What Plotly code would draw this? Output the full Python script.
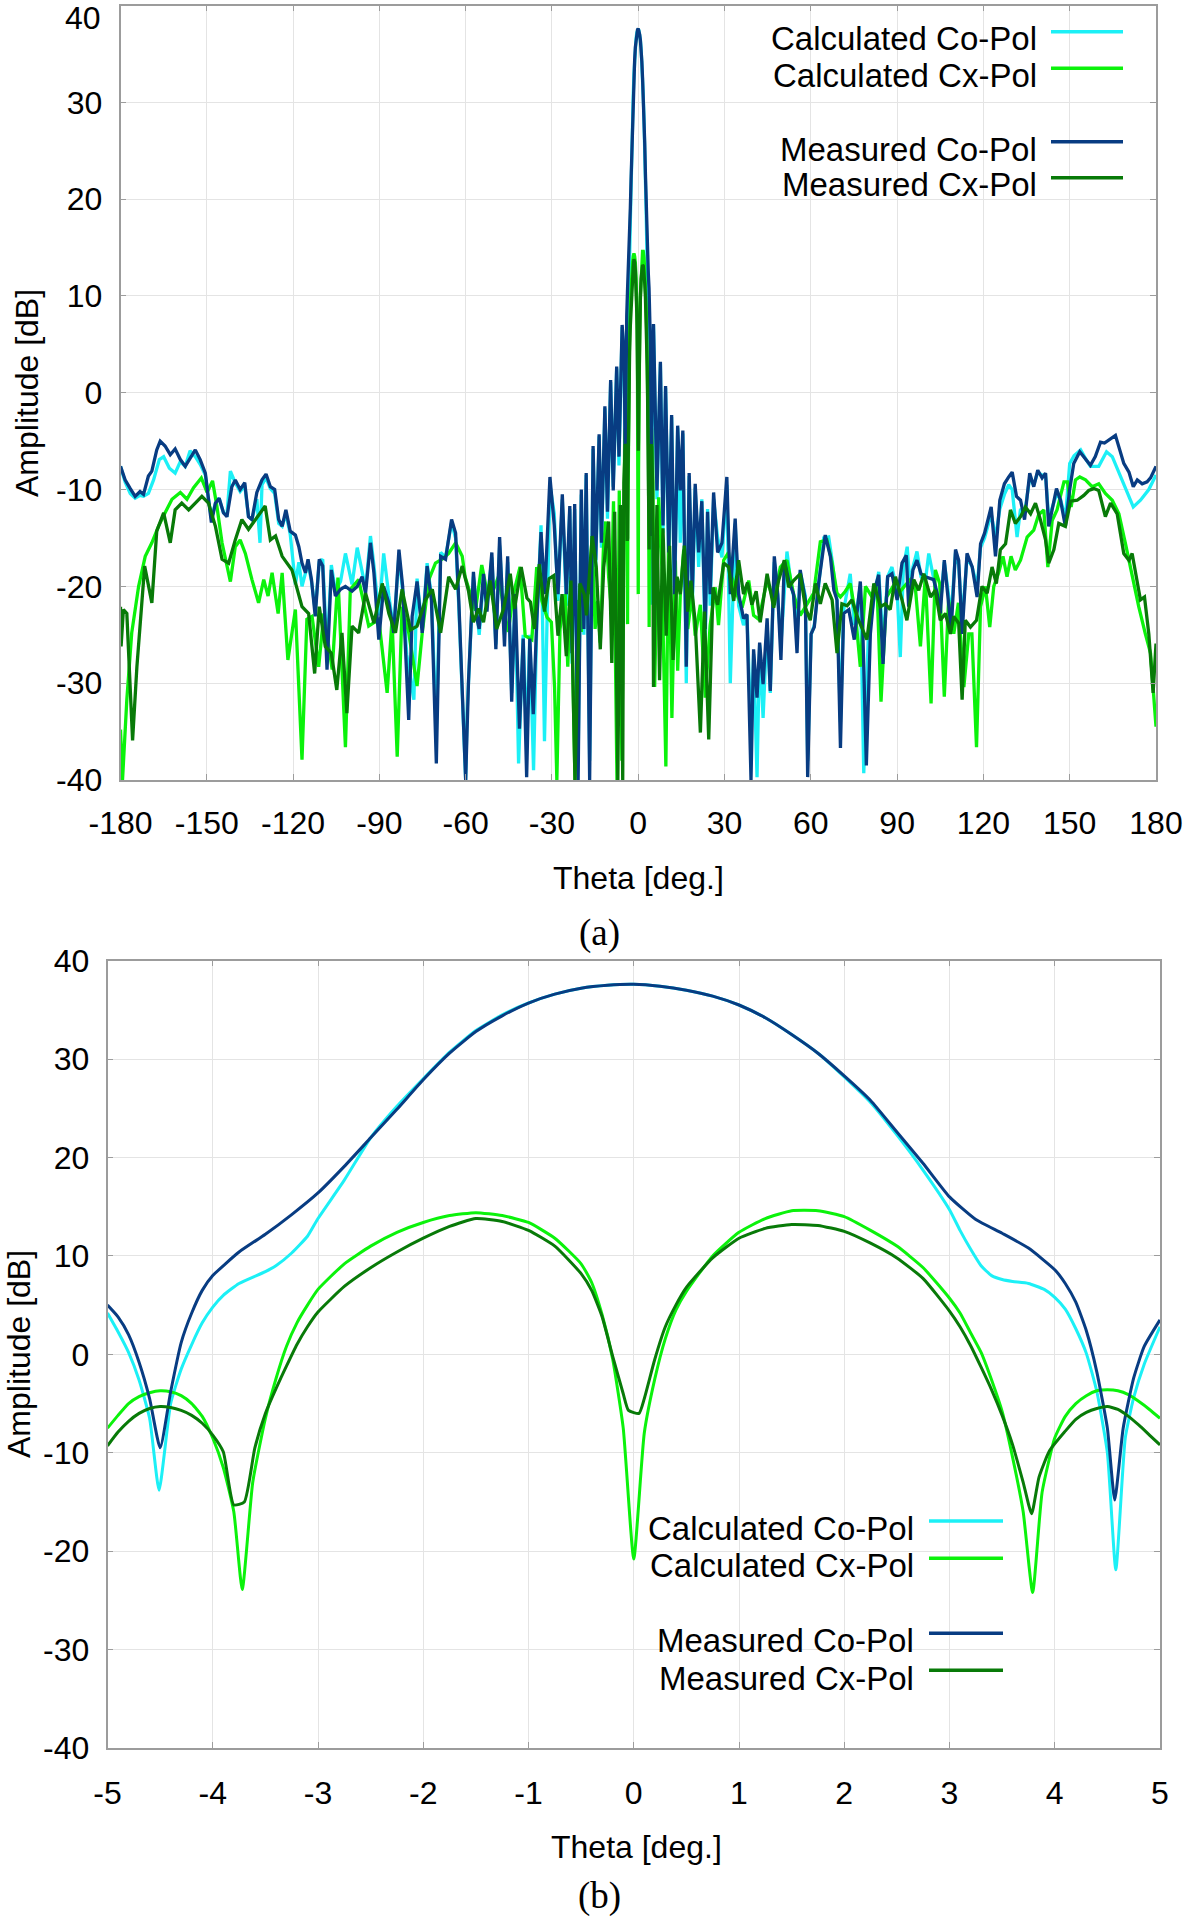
import plotly.graph_objects as go

# ---------------- data: panel (a), |theta| > 5 deg  (theta [deg], amplitude [dB]) ----------------
a_calc_co = [(-180,-7.6),(-178.4,-9.2),(-176.6,-10.4),(-174.9,-10.9),(-173.2,-10.6),(-172,-10.7),(-170.3,-10.4),(-168.5,-9),(-166.5,-6.9),(-165,-6.6),(-163,-7.8),(-161,-8.3),(-159.2,-7.1),(-157.5,-7.6),(-155.8,-6),(-154,-6.6),(-152.3,-7.4),(-150.5,-8.5),(-149.4,-11),(-148.4,-13),(-147,-11.4),(-145.7,-10.9),(-144.2,-12.4),(-143,-12.6),(-141.8,-8.1),(-140.1,-9.3),(-138.4,-10.2),(-136.8,-9.6),(-135.5,-12.8),(-134.3,-13.1),(-132.6,-11),(-131.5,-15.5),(-130.8,-9.5),(-129.4,-8.8),(-127.9,-9.9),(-126.4,-10.4),(-125,-13.5),(-123.8,-13.8),(-122.5,-12.5),(-121,-14.6),(-119.2,-19.8),(-118,-17.5),(-116.9,-20),(-115.7,-18.8),(-114.8,-17.6),(-113.6,-19.5),(-112.3,-22.5),(-110.9,-17.5),(-109.7,-17.2),(-108.2,-27),(-106.7,-17.8),(-105.3,-20.5),(-103.5,-19.5),(-101.8,-16.6),(-99.5,-19.8),(-97.7,-16),(-96,-18.5),(-94.8,-20.2),(-93.1,-14.8),(-91.9,-17.8),(-90.2,-23),(-88.5,-16.6),(-86.7,-21),(-85,-24.5),(-83.2,-16.8),(-81.9,-20.5),(-80.5,-27),(-78,-31.7),(-76.9,-19.2),(-75.1,-24.5),(-73.4,-17.6),(-71.9,-21),(-70.2,-35),(-68.7,-16.5),(-67,-17),(-64.9,-13.4),(-63.5,-15),(-62.4,-22),(-60,-40),
    (-59.5,-33),(-57.3,-19),(-56.1,-23),(-55.3,-25),(-53.8,-19.2),(-52.6,-22),(-50.9,-17),(-49.5,-26),(-48.2,-15.8),(-46.5,-25),(-45.4,-17.5),(-44,-31),(-42.8,-21),(-41.6,-38.3),(-40,-25),(-38.8,-36),(-37.7,-25),(-36.4,-39),(-35.3,-24),(-33.8,-13.7),(-32.6,-36),(-30.7,-9.5),(-29.2,-12.5),(-27.9,-21.5),(-26.4,-11),(-25,-22),(-23.8,-12),(-23,-28),(-22.1,-12),(-20.9,-38),(-19.8,-10.5),(-18.9,-25),(-18.1,-8.5),(-16.9,-38),(-15.7,-5.8),(-14.8,-18),(-13.6,-4.5),(-12.8,-16),(-11.6,-1.6),(-10.7,-13),(-9.6,1.1),(-8.7,-9.7),(-7.5,2.5),(-6.7,-7.5),(-5.6,6.8),
    (5.3,7),(6.5,-11),(7.7,3),(8.6,-14.5),(9.5,0.5),(10.6,-17.5),(11.6,-2.5),(12.6,-22),(13.7,-3.6),(14.6,-15.5),(15.5,-4.2),(16.7,-30),(17.7,-8.6),(18.8,-22),(19.8,-9.8),(21,-18),(22.1,-11),(23.3,-26),(24.1,-12),(25,-22),(26.2,-11),(27.6,-15),(29.1,-17),(30.8,-9.5),(32,-30),(33.7,-13.5),(34.9,-22),(36.6,-24),(37.8,-23),(39.2,-35),(40.1,-27),(41.3,-39.7),(42.2,-26),(43.4,-33.6),(44.8,-24),(45.9,-31),(47.3,-17.5),(48.5,-21),(49.6,-26),(51.7,-16.4),(53,-19.5),(54,-21),(55.2,-25),(56.3,-18.5),
    (58.1,-21),(58.9,-38),(60.1,-25),(61.2,-24),(62.7,-19.7),(64.5,-15),(66.2,-14.9),(67.5,-17.5),(69.1,-21.5),(70.3,-34),(71.4,-22.5),(73.7,-18.7),(75.1,-24),(77.2,-20),(78.4,-39.3),(80,-25),(82.1,-21),(83.6,-18.5),(85.1,-26),(86.7,-19),(88.2,-18),(90,-20.5),(91.1,-27.3),(92.2,-18),(93.5,-15.9),(94.5,-20),(95.5,-18),(96.9,-16.4),(98.3,-19),(99.8,-19.5),(101,-16.6),(102.7,-19),(103.9,-21),(105,-22),(106.4,-17.5),(108.8,-23),(110.3,-16.5),(111.4,-17.8),(112.6,-23.5),(114.3,-17),(116.1,-18),(117.8,-20),(119,-16),(120.4,-15),(122.7,-12.5),(124.2,-15),(125.7,-12),(127.3,-10.5),(128.8,-9.5),(130,-10),(131.7,-14.9),(132.9,-12),(134.3,-12.5),(136.1,-8.8),(137.5,-9.5),(138.9,-8.2),(140.4,-8.5),(141.6,-8.5),(142.7,-13),(145.4,-10.5),(146.8,-11),(148.5,-13),(150,-7.3),(151.5,-6.5),(153.8,-5.9),(155.5,-6.8),(157.2,-7.6),(160.1,-7.6),(162.8,-6.1),(164.8,-6.6),(167.7,-8.7),(170.6,-10.7),(172.1,-11.8),(174.6,-11.1),(177.5,-10),(180,-8.5)]

a_calc_cx = [(-180,-34.8),(-179.3,-40),(-177.8,-31.7),(-176.1,-24.8),(-173.7,-20),(-171.4,-16.9),(-169.1,-15.5),(-166.8,-13.8),(-164.5,-12.4),(-162.1,-11),(-159.2,-10.3),(-156.9,-11),(-154.6,-9.8),(-151.9,-8.8),(-149.9,-10.3),(-148,-9.1),(-146.5,-11.7),(-144.7,-15.5),(-141.8,-19.5),(-140.1,-15.9),(-138.4,-15.2),(-136.6,-16.6),(-134.3,-19.3),(-132,-21.7),(-130.2,-19.3),(-128.7,-21),(-127.3,-18.6),(-125.2,-22.8),(-123.8,-18.6),(-121.8,-27.6),(-119.2,-22.4),(-116.9,-37.9),(-115.2,-23.4),(-113.4,-23.1),(-111.1,-28.3),(-109.3,-22.8),(-106.4,-28.6),(-104.4,-19.1),(-101.8,-36.6),(-100.1,-20.3),(-97.2,-19.3),(-93.7,-24.1),(-90.2,-23.4),(-87.3,-31),(-85.6,-23.4),(-83.8,-37.6),(-82.1,-22.1),(-79.8,-24.8),(-76.9,-30.3),(-75.1,-24.8),(-72.8,-19.3),(-70.5,-17.6),(-68.2,-17.2),(-65.9,-16.6),(-63.5,-15.5),(-61.2,-16.9),
    (-60.2,-19),(-58.5,-20.8),(-56.6,-22.5),(-54.4,-17.8),(-52.6,-20.5),(-50.9,-20.8),(-48.6,-19),(-46.3,-23),(-45.2,-24.7),(-43.4,-20.8),(-41.1,-18),(-39.3,-25.1),(-37,-25.5),(-35.3,-18),(-33.5,-21.5),(-31.7,-23.2),(-30.2,-23.7),(-29.1,-30.4),(-28.3,-40),(-27.2,-24.4),(-25.4,-20.8),(-24.5,-28.3),(-23.4,-19),(-22,-40),(-20.9,-21.4),(-19.8,-24.7),(-18.6,-16.5),(-17.3,-20.8),(-16,-14.8),(-15,-24.4),(-14.1,-21.5),(-13.2,-25.8),(-12.1,-16),(-11.3,-13.3),(-10.3,-19),(-9.4,-22.2),(-8.6,-11.2),(-7.4,-40),(-6.6,-10.1),(-5.7,-38),
    (5.7,-30.4),(7.1,-10.8),(8.2,-18),(9.6,-38.6),(10.6,-13.7),(11.7,-33.6),(12.9,-17.3),(13.7,-28.7),(14.6,-21),(15.8,-16.2),(17.2,-24.4),(18.7,-20.8),(19.8,-25.1),(21.6,-21.9),(23.3,-31.5),(25,-24),(26.8,-20.1),(27.9,-24),(29.7,-17.3),(31.4,-16.5),(32.5,-19),(34.3,-20.8),(36.1,-22.2),(38.4,-19.4),(40.1,-23),(41.9,-23.4),(43.6,-20.8),(44.8,-19.4),(47.1,-21.5),(49.4,-18),(51.7,-17.3),(54,-20.8),(56.3,-23),(58.7,-21.9),
    (61,-20.7),(63.3,-15.4),(65.6,-15.2),(67.4,-17.6),(69.1,-20.7),(70.3,-21.1),(72,-20.5),(73.7,-19.7),(75.5,-22.8),(77.2,-28.3),(79,-20),(81.3,-21.1),(83,-20),(84.4,-31.9),(86.3,-21.1),(88.6,-20),(90.6,-20.7),(92.5,-20),(94.6,-19.3),(96.3,-20),(98.1,-26.2),(99.8,-19),(101.8,-32.1),(103.3,-18.3),(104.8,-19.7),(106.4,-31.4),(107.9,-21.4),(109.7,-24.9),(111.3,-21.7),(113.2,-30.4),(114.9,-24.9),(116,-24.9),(117.6,-36.6),(119,-22.1),(120.7,-20),(122.2,-24.2),(123.6,-20),(125.3,-18.6),(126.8,-16.9),(128.2,-19),(129.6,-16.9),(131.1,-18.3),(132.9,-17.3),(135.2,-14.9),(137.5,-14.2),(139.2,-12.6),(141,-12.1),(142.4,-18),(143.9,-13.2),(145.6,-12.1),(148,-9.2),(149.2,-9.2),(150.5,-11.8),(152,-9),(153.5,-8.7),(155.5,-9),(157.8,-9.7),(160.1,-9.4),(162.4,-10.4),(164.8,-11.1),(167.1,-12.5),(169.4,-15.6),(171.7,-19),(174,-22.1),(176.3,-24.9),(178.1,-26.9),(179.3,-31.7),(180,-34.5)]

a_meas_co = [(-180,-7.6),(-178.4,-9),(-176.6,-9.9),(-174.9,-10.7),(-173.2,-10.2),(-172,-10.5),(-170.3,-8.6),(-169.1,-8.1),(-167.4,-5.9),(-166.2,-5.0),(-164.5,-5.5),(-162.7,-6.4),(-161,-5.8),(-159.2,-6.9),(-157.5,-7.6),(-155.8,-6.7),(-154,-5.9),(-152.3,-6.9),(-150.5,-8.3),(-149.4,-11),(-148.4,-13.4),(-147,-11.4),(-145.7,-10.9),(-144.2,-12.4),(-143,-12.8),(-141.3,-9.7),(-140.1,-9),(-138.4,-10),(-136.8,-9.3),(-135.5,-12.8),(-134.3,-13.1),(-132.6,-10.3),(-130.8,-9),(-129.4,-8.4),(-127.9,-9.7),(-126.4,-10),(-125,-13.1),(-123.8,-13.8),(-122.5,-12.1),(-121,-14.3),(-119.2,-14.7),(-118,-15.9),(-116.9,-17.6),(-115.7,-18.6),(-114.8,-17.2),(-113.6,-19.3),(-112.3,-23.1),(-110.9,-17.2),(-109.7,-17.9),(-108.2,-28.6),(-106.7,-18.3),(-105.3,-21),(-103.5,-20.3),(-101.8,-20),(-99.5,-20.5),(-97.7,-20),(-96,-19),(-94.8,-20.7),(-93.1,-15.5),(-91.9,-18.6),(-90.2,-25.5),(-88.5,-20),(-86.7,-21.7),(-85,-24.8),(-83.2,-16.2),(-81.9,-20),(-79.8,-33.8),(-78.6,-23.1),(-76.9,-19.5),(-75.1,-24.8),(-73.4,-17.9),(-71.9,-21.4),(-70.2,-38.3),(-68.7,-16.9),(-67,-17.2),(-64.9,-13.1),(-63.5,-14.5),(-62.4,-21.4),(-60,-40),
    (-59,-29.7),(-57.3,-18.5),(-56.1,-23.3),(-55.3,-24.4),(-53.8,-18.7),(-52.6,-22.6),(-50.9,-16.5),(-49.5,-26.5),(-48.2,-14.9),(-46.5,-26.2),(-45.4,-16.9),(-44,-31.9),(-42.8,-20.8),(-41.3,-34.7),(-40,-25.4),(-38.8,-39.7),(-37.7,-25.4),(-36.5,-33.2),(-35.3,-23.7),(-33.8,-14.4),(-32.5,-20.8),(-30.7,-8.7),(-29.2,-13.7),(-27.9,-20.8),(-26.4,-10.5),(-25,-20.8),(-23.8,-11.7),(-23,-26.9),(-22.1,-11.5),(-20.9,-40),(-19.8,-10),(-18.9,-24.4),(-18.1,-8.3),(-16.9,-40),(-15.7,-5.5),(-14.8,-17.3),(-13.6,-4.3),(-12.8,-15.5),(-11.6,-1.4),(-10.7,-12.3),(-9.6,1.3),(-8.7,-10.1),(-7.5,2.7),(-6.7,-6.6),(-5.6,7),
    (5.3,7.1),(6.5,-10.1),(7.7,3.2),(8.6,-13.7),(9.5,0.7),(10.6,-16.5),(11.6,-2.3),(12.6,-20.8),(13.7,-3.4),(14.6,-10.1),(15.5,-3.9),(16.7,-28.3),(17.7,-8.3),(18.8,-20.8),(19.8,-9.4),(21,-16.5),(22.1,-11.2),(23.3,-24.4),(24.1,-12.3),(25,-20.8),(26.2,-10.3),(27.6,-16.5),(29.1,-15.5),(30.8,-8.7),(32,-20.8),(33.7,-13),(34.9,-20.8),(36.6,-23.3),(37.8,-22.9),(39.2,-40),(40.1,-26.5),(41.3,-31.5),(42.2,-25.8),(43.4,-30.1),(44.8,-23.3),(45.9,-30.8),(47.3,-16.9),(48.5,-20.8),(49.6,-27.6),(50.8,-17.3),(52.3,-19.4),(54,-20.8),(55.2,-26.9),(56.3,-18.3),
    (58.1,-21.4),(58.9,-39.7),(60.1,-24.9),(61.2,-24.2),(62.7,-19.7),(65,-14.7),(66.8,-16.9),(68,-20.4),(69.1,-21.4),(70.3,-36.7),(71.4,-22.8),(73.2,-22.4),(75.1,-25.5),(77.2,-19.5),(78.1,-24.9),(79.3,-38.5),(80.7,-24.9),(82.1,-20.4),(83.6,-18.8),(85.1,-28),(86.7,-19),(88.2,-18.7),(90,-21.4),(91.7,-17.6),(93.2,-16.8),(94,-22.1),(95.5,-18.3),(96.9,-17.3),(98.3,-18.7),(99.8,-19),(102.7,-19.3),(103.9,-20.7),(105,-22.8),(106.4,-17.3),(108.8,-24.5),(110.3,-16.2),(111.4,-17.3),(112.6,-24.9),(114.3,-16.6),(116.1,-18),(117.8,-21.1),(119,-15.6),(120.4,-14.5),(122.7,-11.8),(124.2,-16.9),(125.7,-11.1),(127.3,-9.4),(128.8,-8.7),(130,-8.2),(131.5,-10.7),(132.9,-11.1),(134.3,-13.1),(136.1,-8.3),(137.5,-9.7),(138.9,-8),(140.4,-8.8),(141.6,-8.3),(142.7,-13.8),(145.4,-9.9),(146.8,-11.1),(148.5,-13.8),(150,-10),(151.4,-7.3),(153.5,-6.1),(155.5,-6.9),(157.2,-7.5),(158.9,-6.6),(160.7,-5.1),(162.1,-5.2),(164.2,-4.7),(165.9,-4.4),(167.4,-5.9),(168.8,-7.3),(170.6,-8.2),(172.1,-9.7),(173.5,-9),(175.2,-9.4),(176.9,-9.2),(178.1,-8.8),(180,-7.6)]

a_meas_cx = [(-180,-22.1),(-179.8,-26.2),(-179,-22.4),(-177.8,-22.8),(-175.8,-35.9),(-174.3,-28.3),(-171.6,-17.9),(-170.3,-20),(-169.1,-21.7),(-167.4,-14.3),(-165,-12.4),(-162.7,-15.5),(-161,-12.1),(-158.7,-11.4),(-156.3,-12.1),(-154,-11.4),(-151.7,-10.7),(-149.4,-11.4),(-147,-13.8),(-144.7,-17.2),(-142.4,-17.6),(-140.1,-15.2),(-137.8,-13.1),(-135.5,-14.1),(-133.2,-13.1),(-129.7,-11.7),(-127.9,-15.2),(-126.1,-14.8),(-123.8,-16.9),(-120.4,-18.3),(-116.9,-22.1),(-114.6,-22.8),(-112.5,-29),(-110.9,-22.1),(-108.8,-26.2),(-106.7,-26.9),(-104.8,-30.7),(-103,-24.8),(-101.3,-33.1),(-99.5,-24.1),(-97.2,-24.8),(-94.8,-20.7),(-91.9,-23.8),(-89,-19.7),(-86.7,-22.8),(-84.4,-24.8),(-82.1,-20.3),(-79.2,-24.5),(-76.9,-24.1),(-74,-21.4),(-71.6,-20.3),(-68.7,-24.8),(-65.9,-19),(-63.5,-20.3),(-61.2,-17.9),
    (-59,-20.5),(-57.3,-23.7),(-55.5,-22.3),(-53.8,-23.7),(-51.5,-19.4),(-49.2,-24.4),(-46.8,-22.3),(-44.5,-18.7),(-43,-22.3),(-40.7,-18),(-38.7,-21.2),(-37.5,-21.6),(-36.1,-24.4),(-34.4,-17.7),(-32.6,-22.6),(-31,-19.2),(-29.4,-18.9),(-27.9,-25.1),(-26.5,-20.8),(-25,-27.2),(-23.4,-19.4),(-22,-40),(-20.3,-19.7),(-18.8,-20.8),(-18,-23),(-16,-14.8),(-14.6,-18),(-13.2,-26.5),(-12,-18),(-10.3,-13.3),(-9.2,-27.9),(-8.2,-12.3),(-7.1,-40),(-6.2,-11.6),(-5.4,-40),
    (5.3,-30.4),(6.5,-11.6),(7.4,-29.7),(8.6,-14),(9.7,-25.1),(10.9,-15.8),(12.1,-27.6),(13.5,-19),(14.6,-20.8),(16,-15.8),(17.2,-22.6),(18.3,-19.4),(19.8,-23.7),(21.6,-35.1),(23,-22.6),(24.5,-35.8),(26,-20.1),(27.6,-21.9),(29.7,-17.6),(31.4,-18),(33.2,-21.5),(34.9,-17.3),(36.6,-20.8),(38,-19.6),(39.5,-21.9),(41,-20.5),(42.4,-23.7),(44.8,-18.7),(47.1,-22.2),(48.8,-19.4),(50.8,-17.3),(52.3,-20.1),(54,-19.4),(56.3,-18.7),(58.1,-22.2),
    (59.8,-23.5),(61.6,-19.7),(63.3,-21.8),(65,-19.7),(67.4,-21.4),(69.1,-26.9),(70.8,-21.8),(72.6,-22),(74.3,-21.4),(76.6,-23.5),(79.5,-25.5),(81.9,-19.7),(84.2,-22.1),(85.9,-21.8),(87.6,-22.4),(89.4,-19),(91.7,-21.4),(93.4,-23.5),(95.8,-19.3),(97.5,-20.4),(99.3,-18.7),(101.6,-21.1),(103.3,-20.4),(105,-23.5),(106.8,-22.8),(108.5,-24.9),(109.7,-23.1),(111.4,-23.8),(112.6,-31.7),(113.7,-23.5),(115.5,-24.2),(117.6,-23.5),(119.5,-20),(121.3,-20.7),(123,-18),(124.5,-19.7),(125.9,-16.2),(127.7,-15.6),(129.4,-12.1),(131.1,-13.5),(132.9,-12.8),(134.6,-11.8),(136.4,-12.5),(138.1,-11.4),(139.8,-13.1),(141.6,-15.2),(142.7,-17.6),(144.5,-16.2),(146.2,-13.5),(148.5,-13.8),(150.3,-11.2),(152.6,-11.1),(154.9,-10.6),(156.6,-10.1),(158.4,-9.9),(160.1,-10.1),(162.4,-12.8),(164.2,-11.4),(166.5,-12.5),(168.8,-16.6),(170.6,-17.3),(171.7,-16.6),(172.9,-18.7),(174.6,-21.4),(176,-21.1),(177.5,-24.9),(179,-31),(180,-25.9)]

# ---------------- data: panel (b), main beam  -5 .. 5 deg ----------------
b_calc_co = [(-5,4.2),(-4.9,2.3),(-4.8,0.2),(-4.7,-2.6),(-4.6,-6.5),(-4.51,-13.8),(-4.4,-5.0),(-4.3,-1.5),(-4.2,1.0),(-4.1,3.2),(-4.0,4.8),(-3.9,6.0),(-3.75,7.2),(-3.5,8.4),(-3.4,9.0),(-3.25,10.3),(-3.1,12.0),(-3.0,13.8),(-2.75,17.7),(-2.5,22.0),(-2.25,25.2),(-2.0,28.0),(-1.75,30.7),(-1.5,32.9),(-1.25,34.5),(-1.0,35.7),(-0.75,36.6),(-0.5,37.2),(-0.25,37.5),(0,37.6),(0.25,37.4),(0.5,37.0),(0.75,36.4),(1.0,35.5),(1.25,34.2),(1.5,32.5),(1.75,30.6),(2.0,28.2),(2.25,25.6),(2.5,22.3),(2.75,18.7),(3.0,14.7),(3.1,12.6),(3.2,10.7),(3.3,9.0),(3.4,8.0),(3.5,7.6),(3.6,7.4),(3.75,7.2),(3.9,6.6),(4.0,5.8),(4.1,4.6),(4.2,2.6),(4.3,0.1),(4.4,-3.8),(4.5,-10),(4.58,-21.9),(4.67,-8.5),(4.75,-4.4),(4.85,-1.0),(5.0,2.8)]
b_calc_cx = [(-5,-7.5),(-4.9,-6.2),(-4.8,-5.0),(-4.7,-4.3),(-4.6,-3.9),(-4.5,-3.7),(-4.4,-3.8),(-4.3,-4.2),(-4.2,-5.0),(-4.1,-6.3),(-4.0,-8.5),(-3.9,-11.5),(-3.8,-16),(-3.72,-23.9),(-3.62,-13),(-3.5,-6.5),(-3.4,-2.5),(-3.3,0.8),(-3.2,3.2),(-3.1,5.0),(-3.0,6.6),(-2.75,9.2),(-2.5,11.0),(-2.25,12.4),(-2.0,13.4),(-1.75,14.1),(-1.5,14.4),(-1.25,14.1),(-1.0,13.4),(-0.75,11.8),(-0.5,9.2),(-0.4,7.3),(-0.3,4.0),(-0.2,-0.5),(-0.1,-7.5),(0,-20.8),(0.1,-8.0),(0.2,-2.5),(0.3,1.6),(0.4,4.5),(0.5,6.4),(0.75,10.0),(1.0,12.4),(1.25,13.8),(1.5,14.6),(1.75,14.6),(2.0,14.0),(2.25,12.6),(2.5,11.0),(2.75,8.8),(3.0,5.7),(3.1,4.2),(3.2,2.2),(3.3,0.2),(3.4,-2.6),(3.5,-5.8),(3.6,-10.5),(3.7,-16),(3.79,-24.2),(3.88,-14),(4.0,-8.5),(4.1,-6.3),(4.2,-5.0),(4.3,-4.2),(4.4,-3.7),(4.5,-3.6),(4.6,-3.7),(4.7,-4.1),(4.8,-4.8),(4.9,-5.6),(5.0,-6.5)]
b_meas_co = [(-5,5.0),(-4.9,3.8),(-4.8,2.0),(-4.7,-0.8),(-4.6,-4.5),(-4.5,-9.5),(-4.4,-3.8),(-4.3,1.2),(-4.2,4.2),(-4.1,6.5),(-4.0,8.0),(-3.75,10.4),(-3.5,12.2),(-3.25,14.2),(-3.0,16.4),(-2.75,19.1),(-2.5,22.0),(-2.25,24.9),(-2.0,27.9),(-1.75,30.6),(-1.5,32.8),(-1.25,34.4),(-1.0,35.7),(-0.75,36.6),(-0.5,37.2),(-0.25,37.5),(0,37.6),(0.25,37.4),(0.5,37.0),(0.75,36.4),(1.0,35.5),(1.25,34.2),(1.5,32.5),(1.75,30.6),(2.0,28.3),(2.25,25.8),(2.5,22.6),(2.75,19.4),(3.0,16.0),(3.25,13.7),(3.5,12.3),(3.75,10.8),(4.0,8.6),(4.1,7.2),(4.2,5.3),(4.3,2.4),(4.4,-1.8),(4.5,-7.5),(4.57,-14.8),(4.65,-7.5),(4.75,-2.4),(4.85,0.8),(5.0,3.5)]
b_meas_cx = [(-5,-9.3),(-4.9,-7.9),(-4.8,-6.8),(-4.7,-6.0),(-4.6,-5.5),(-4.5,-5.3),(-4.4,-5.4),(-4.3,-5.7),(-4.2,-6.2),(-4.1,-7.0),(-4.0,-8.2),(-3.9,-9.9),(-3.8,-15.3),(-3.7,-15.0),(-3.6,-9.5),(-3.5,-6.0),(-3.4,-3.5),(-3.3,-1.2),(-3.2,1.0),(-3.1,2.8),(-3.0,4.3),(-2.75,6.9),(-2.5,8.8),(-2.25,10.4),(-2.0,11.8),(-1.75,13.0),(-1.5,13.8),(-1.25,13.5),(-1.0,12.6),(-0.75,11.0),(-0.5,8.2),(-0.4,6.5),(-0.3,3.8),(-0.2,-0.2),(-0.1,-4.0),(-0.05,-5.7),(0.05,-6.0),(0.1,-4.5),(0.2,-0.5),(0.3,2.8),(0.4,5.0),(0.5,6.8),(0.75,9.8),(1.0,11.8),(1.25,12.8),(1.5,13.2),(1.75,13.1),(2.0,12.5),(2.25,11.3),(2.5,9.8),(2.75,7.7),(3.0,4.4),(3.1,2.8),(3.2,0.9),(3.3,-1.3),(3.4,-3.6),(3.5,-6.2),(3.6,-9.2),(3.7,-13),(3.78,-16.2),(3.85,-12.5),(3.95,-9.8),(4.1,-7.8),(4.2,-6.6),(4.3,-5.9),(4.4,-5.5),(4.5,-5.3),(4.6,-5.6),(4.7,-6.3),(4.8,-7.2),(4.9,-8.2),(5.0,-9.2)]

series_names = ["Calculated Co-Pol", "Calculated Cx-Pol", "Measured Co-Pol", "Measured Cx-Pol"]
series_colors = ["#1CF0F6", "#0BF20B", "#083C82", "#087A08"]

a_x_ticks = [-180, -150, -120, -90, -60, -30, 0, 30, 60, 90, 120, 150, 180]
b_x_ticks = [-5, -4, -3, -2, -1, 0, 1, 2, 3, 4, 5]
y_ticks = [-40, -30, -20, -10, 0, 10, 20, 30, 40]

# ---------------- figure ----------------
W, H = 1187, 1920
FONT = "Liberation Sans, Arial, sans-serif"

def px(x):
    return x / W

def py(y):
    return 1 - y / H

def labels(vals):
    return [str(v) for v in vals]   # plain hyphen-minus, as in the original

fig = go.Figure()

a_sets = [a_calc_co, a_calc_cx, a_meas_co, a_meas_cx]
b_sets = [b_calc_co, b_calc_cx, b_meas_co, b_meas_cx]

for outer, inner, name, col in zip(a_sets, b_sets, series_names, series_colors):
    pts = sorted(outer + inner)
    fig.add_trace(go.Scatter(x=[p[0] for p in pts], y=[p[1] for p in pts], mode="lines",
                             line=dict(color=col, width=3.3), name=name, showlegend=False,
                             xaxis="x", yaxis="y"))

for inner, name, col in zip(b_sets, series_names, series_colors):
    fig.add_trace(go.Scatter(x=[p[0] for p in inner], y=[p[1] for p in inner], mode="lines",
                             line=dict(color=col, width=3, shape="spline", smoothing=0.5),
                             name=name, showlegend=False, xaxis="x2", yaxis="y2"))

axis_common = dict(showgrid=True, gridcolor="#E4E4E4", gridwidth=1, zeroline=False,
                   showline=True, mirror="ticks", linecolor="#9C9C9C", linewidth=1.5,
                   ticks="inside", ticklen=6, tickcolor="#9C9C9C", tickwidth=1,
                   tickfont=dict(family=FONT, size=32, color="black"), automargin=False)

a_y_text = labels(y_ticks)
a_y_text[-1] = ""   # top "40" label of panel (a) placed separately so it stays inside the page

fig.update_layout(
    width=W, height=H, margin=dict(l=0, r=0, t=0, b=0),
    paper_bgcolor="white", plot_bgcolor="white", showlegend=False,
    xaxis=dict(domain=[px(120.5), px(1156)], range=[-180, 180], tickvals=a_x_ticks,
               ticktext=labels(a_x_ticks), ticklabelstandoff=14, anchor="y", **axis_common),
    yaxis=dict(domain=[py(780), py(5.5)], range=[-40, 40], tickvals=y_ticks,
               ticktext=a_y_text, ticklabelstandoff=10, anchor="x", **axis_common),
    xaxis2=dict(domain=[px(107.5), px(1160)], range=[-5, 5], tickvals=b_x_ticks,
                ticktext=labels(b_x_ticks), ticklabelstandoff=16, anchor="y2", **axis_common),
    yaxis2=dict(domain=[py(1748), py(960.7)], range=[-40, 40], tickvals=y_ticks,
                ticktext=labels(y_ticks), ticklabelstandoff=10, anchor="x2", **axis_common),
)

ann = []
shapes = []
tfont = dict(family=FONT, size=32, color="black")

ann.append(dict(text="40", x=px(103), y=py(18), xref="paper", yref="paper",
                showarrow=False, font=tfont, xanchor="right", yanchor="middle"))

# axis titles and panel labels
ann.append(dict(text="Theta [deg.]", x=px(638), y=py(878), xref="paper", yref="paper",
                showarrow=False, font=tfont, xanchor="center", yanchor="middle"))
ann.append(dict(text="Theta [deg.]", x=px(636), y=py(1847), xref="paper", yref="paper",
                showarrow=False, font=tfont, xanchor="center", yanchor="middle"))
ann.append(dict(text="Amplitude [dB]", x=px(27), y=py(393), xref="paper", yref="paper",
                showarrow=False, font=tfont, textangle=-90, xanchor="center", yanchor="middle"))
ann.append(dict(text="Amplitude [dB]", x=px(19), y=py(1354), xref="paper", yref="paper",
                showarrow=False, font=tfont, textangle=-90, xanchor="center", yanchor="middle"))
serif = dict(family="Liberation Serif, Times New Roman, serif", size=37, color="black")
ann.append(dict(text="(a)", x=px(600), y=py(933), xref="paper", yref="paper",
                showarrow=False, font=serif, xanchor="center", yanchor="middle"))
ann.append(dict(text="(b)", x=px(600), y=py(1896), xref="paper", yref="paper",
                showarrow=False, font=serif, xanchor="center", yanchor="middle"))

# custom legends (text right-aligned, line sample on the right)
lfont = dict(family=FONT, size=33, color="black")
legends = [
    (1038.6, 1051, 1123, [38.3, 75, 149.3, 185], [31.7, 68.3, 141.7, 177.7]),
    (916, 929, 1003, [1528.3, 1565.7, 1640.8, 1678], [1521, 1558.3, 1633.3, 1670.3]),
]
for tx, lx0, lx1, ty, ly in legends:
    for i in range(4):
        ann.append(dict(text=series_names[i], x=px(tx), y=py(ty[i]), xref="paper", yref="paper",
                        showarrow=False, font=lfont, xanchor="right", yanchor="middle"))
        shapes.append(dict(type="line", xref="paper", yref="paper", x0=px(lx0), x1=px(lx1),
                           y0=py(ly[i]), y1=py(ly[i]), line=dict(color=series_colors[i], width=3.5)))

fig.update_layout(annotations=ann, shapes=shapes)
fig.write_html("out.html", config={"displayModeBar": False},
               post_script="document.body.style.margin='0px';document.body.style.padding='0px';")
